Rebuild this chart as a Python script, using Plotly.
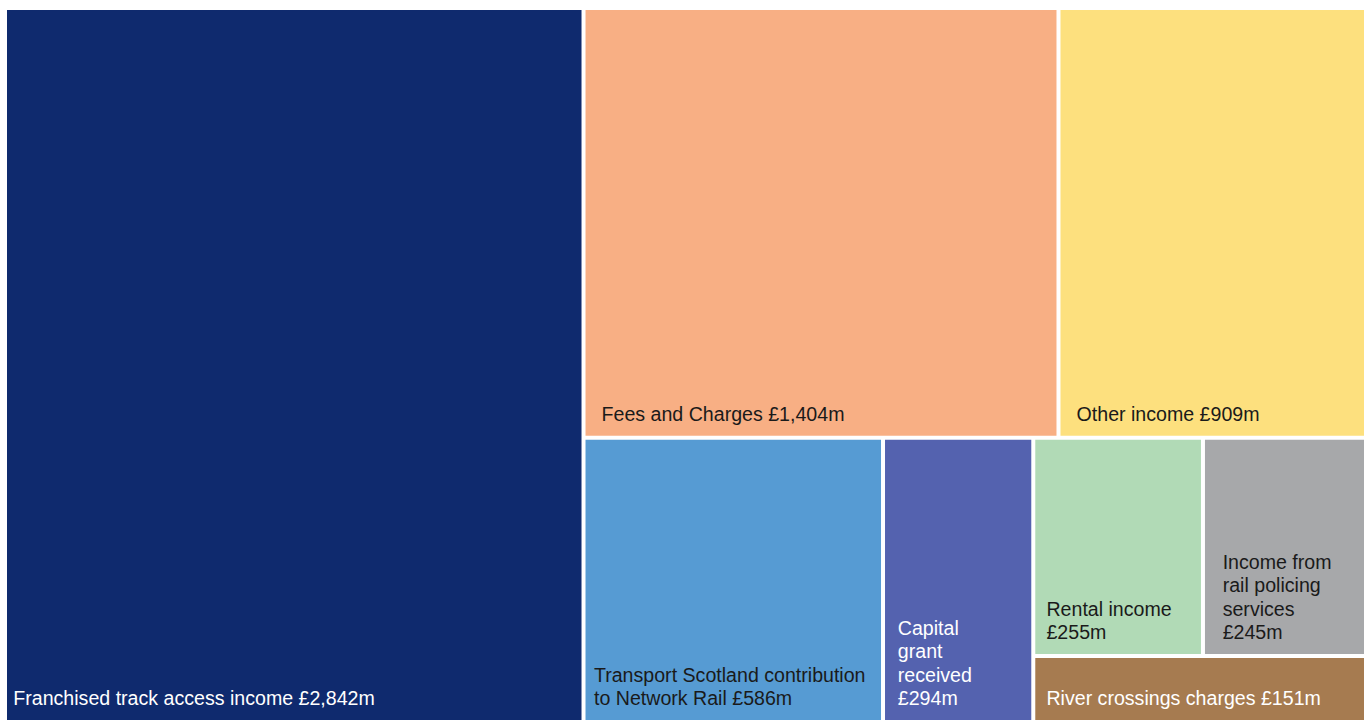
import plotly.graph_objects as go

# Data
categories = [
    "Franchised track access income",
    "Fees and Charges",
    "Other income",
    "Transport Scotland contribution to Network Rail",
    "Capital grant received",
    "Rental income",
    "Income from rail policing services",
    "River crossings charges",
]
values_m = [2842, 1404, 909, 586, 294, 255, 245, 151]
label_lines = [
    ["Franchised track access income £2,842m"],
    ["Fees and Charges £1,404m"],
    ["Other income £909m"],
    ["Transport Scotland contribution", "to Network Rail £586m"],
    ["Capital", "grant", "received", "£294m"],
    ["Rental income", "£255m"],
    ["Income from", "rail policing", "services", "£245m"],
    ["River crossings charges £151m"],
]
# grouping used only to reproduce the arrangement of the tiles
group_of = ["all", "top", "top", "bottom", "bottom", "small_top", "small_top", "small"]
group_ids = ["all", "rest", "top", "bottom", "small", "small_top"]
group_parents = ["", "all", "rest", "rest", "bottom", "small"]
node_order = ["all", categories[0], "rest", "top", categories[1], categories[2],
              "bottom", categories[3], categories[4], "small", "small_top",
              categories[5], categories[6], categories[7]]

# Styles
leaf_colors = ["#0F2A6E", "#F8AF84", "#FDE07E", "#569BD3", "#5462AF",
               "#B1DAB6", "#A7A8AA", "#A67B50"]
leaf_text_colors = ["white", "#1a1a1a", "#1a1a1a", "#1a1a1a", "white",
                    "#1a1a1a", "#1a1a1a", "white"]
EN, FOUR, SIX, NB = "\u2002", "\u2005", "\u2006", "\u00a0"
indents = [SIX, EN + SIX, EN + SIX, NB, EN, FOUR + SIX, EN + FOUR, FOUR + SIX]
BASE_SIZE = 18      # controls line spacing
GLYPH_SIZE = 19.6   # size of the drawn letters
# invisible spacer that lifts bottom-aligned text a little
SPACER = "<sub><span style='font-size:40px'>" + NB + "</span></sub>"


def fmt(lines, ind):
    return "<br>".join(
        "<span style='font-size:%spx'>%s</span>" % (GLYPH_SIZE, ind + ln) for ln in lines
    ) + SPACER


node = {}
for gid, gpar in zip(group_ids, group_parents):
    node[gid] = (gpar, 0, "", "white", "white")
for cat, v, lines, g, c, tc, ind in zip(categories, values_m, label_lines, group_of,
                                        leaf_colors, leaf_text_colors, indents):
    node[cat] = (g, v, fmt(lines, ind), c, tc)

ids = node_order
parents = [node[i][0] for i in ids]
vals = [node[i][1] for i in ids]
texts = [node[i][2] for i in ids]
colors = [node[i][3] for i in ids]
tcolors = [node[i][4] for i in ids]

fig = go.Figure(go.Treemap(
    ids=ids,
    labels=ids,
    parents=parents,
    values=vals,
    branchvalues="remainder",
    sort=False,
    text=texts,
    textinfo="text",
    textposition="bottom left",
    textfont=dict(family="Liberation Sans, Arial, sans-serif", size=BASE_SIZE, color=tcolors),
    marker=dict(colors=colors, line=dict(width=0), pad=dict(t=0, l=0, r=0, b=0)),
    tiling=dict(packing="slice-dice", pad=4),
    pathbar=dict(visible=False),
    root=dict(color="white"),
    hoverinfo="skip",
))
fig.update_layout(
    width=1369, height=720,
    margin=dict(l=7, r=5, t=10, b=0),
    paper_bgcolor="white",
    uniformtext=dict(minsize=BASE_SIZE, mode="show"),
)
fig.write_html("out.html", config={"displayModeBar": False},
               post_script="document.body.style.margin='0';")
